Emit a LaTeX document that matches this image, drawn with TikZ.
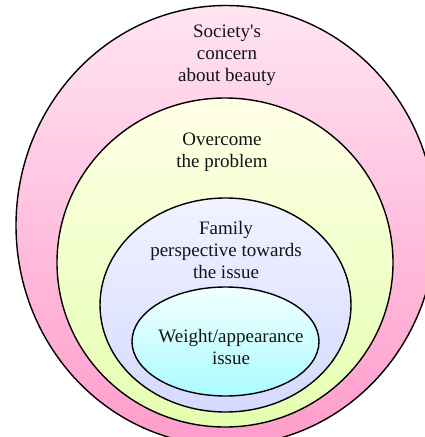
\documentclass[tikz,border=0pt]{standalone}
\usepackage{fontspec}
\newfontfamily\lblfont{Liberation Serif}
\usetikzlibrary{shapes.geometric}
\definecolor{pinkT}{HTML}{FFE4F2}
\definecolor{pinkB}{HTML}{FF9CCB}
\definecolor{greenT}{HTML}{FFFFE6}
\definecolor{greenB}{HTML}{E4FFB0}
\definecolor{lavT}{HTML}{F2F2FF}
\definecolor{lavB}{HTML}{D4DAFF}
\definecolor{cyanT}{HTML}{F2FFFF}
\definecolor{cyanB}{HTML}{AAFCFF}
\definecolor{txt}{HTML}{141414}
\tikzset{
  ring/.style={ellipse, draw=black, line width=1.4pt, inner sep=0pt, outer sep=0pt},
  lbl/.style={align=center, text=txt, inner sep=0pt,
    font=\lblfont\fontsize{19}{22}\selectfont}
}
\begin{document}
\begin{tikzpicture}[x=1pt,y=-1pt]
\useasboundingbox (0,0) rectangle (425,437);
\clip (0,0) rectangle (425,437);
\node[ring, top color=pinkT, bottom color=pinkB, minimum width=420pt, minimum height=440pt] (outer) at (226,225.5) {};
\node[ring, top color=greenT, bottom color=greenB, minimum width=336pt, minimum height=329pt] (green) at (225,262.5) {};
\node[ring, top color=lavT, bottom color=lavB, minimum width=251pt, minimum height=214pt] (lav) at (225.5,305) {};
\node[ring, top color=cyanT, bottom color=cyanB, minimum width=187pt, minimum height=109pt] (cyan) at (225.5,341.5) {};
\node[lbl] (t1) at (227,55) {Society's\\concern\\about beauty};
\node[lbl] (t2) at (222,152) {Overcome\\the problem};
\node[lbl] (t3) at (226,250) {Family\\perspective towards\\the issue};
\node[lbl] (t4) at (231,347) {Weight/appearance\\issue};
\end{tikzpicture}
\end{document}
